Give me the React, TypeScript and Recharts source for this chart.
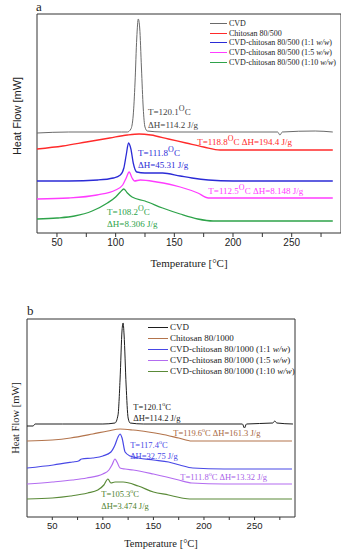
import React from "react"
import { LineChart, Line, XAxis, YAxis, ReferenceArea, ReferenceDot } from "recharts"

const serif = '"Liberation Serif", "DejaVu Serif", serif'
const sans = '"Liberation Sans", Arial, sans-serif'

// panel a (chitosan 80/500) - heat flow values are offset curves, arbitrary units
const cvdAT = [33, 60, 90, 105, 110, 113, 115, 116.5, 118, 119.3, 120.5, 122, 123.5, 125, 127, 140, 200, 238, 240, 242, 270, 285]
const cvdAV = [100, 101, 101, 101, 101, 104, 118, 150, 195, 214, 205, 165, 125, 106, 102, 101, 101, 101, 98, 101, 102, 101]
const chiAT = [33, 55, 75, 95, 110, 120, 130, 145, 160, 175, 189, 230, 285]
const chiAV = [84, 87, 91, 95, 98, 99, 98, 94, 90, 86, 83, 83, 83]
const m11AT = [33, 60, 85, 98, 104, 107, 109, 111, 113, 115, 118, 125, 140, 155, 165, 179, 200, 285]
const m11AV = [52, 52, 53, 55, 58, 65, 78, 90, 84, 70, 61, 60, 60, 57, 55, 53, 52, 52]
const m15AT = [33, 60, 84, 100, 106, 109, 111.5, 114, 116, 121, 135, 155, 170, 179, 200, 285]
const m15AV = [34, 35, 38, 43, 48, 55, 61, 55, 52, 53, 51, 46, 40, 35, 35, 35]
const m110AT = [33, 50, 65, 80, 93, 100, 104, 107, 110, 114, 125, 140, 155, 170, 183, 220, 285]
const m110AV = [14, 15, 17, 22, 30, 36, 41, 44, 40, 36, 32, 25, 19, 14, 12, 12, 12]

// panel b (chitosan 80/1000)
const cvdBT = [25, 31, 33, 60, 100, 112, 115, 117, 119, 120, 121, 123, 125, 127, 140, 238, 240, 242, 268, 270, 272, 288]
const cvdBV = [91, 91, 93, 93, 93, 94, 102, 137, 187, 194, 182, 132, 99, 94, 93, 93, 89, 93, 94, 96, 94, 93]
const chiBT = [25, 50, 68, 90, 105, 117, 130, 145, 157, 175, 188, 230, 287]
const chiBV = [76, 77, 79, 83, 86, 88, 87, 85, 83, 79, 76, 76, 76]
const m11BT = [25, 51, 70, 76, 79, 90, 100, 108, 112, 115, 117, 119, 122, 127, 135, 150, 165, 176, 189, 220, 287]
const m11BV = [49, 52, 55, 56, 58, 59, 61, 65, 72, 80, 83, 79, 65, 61, 59, 57, 55, 52, 49, 48, 48]
const m15BT = [25, 50, 70, 84, 100, 106, 109, 112, 114, 117, 122, 130, 150, 163, 175, 188, 220, 287]
const m15BV = [33, 35, 37, 39, 43, 47, 52, 58, 55, 49, 48, 47, 43, 40, 37, 34, 33, 33]
const m110BT = [25, 50, 68, 85, 95, 101, 105, 108, 112, 120, 135, 150, 165, 178, 186, 230, 287]
const m110BV = [18, 19, 21, 24, 27, 32, 38, 34, 35, 35, 31, 25, 22, 19, 18, 18, 18]

const tempTicks = [50, 75, 100, 125, 150, 175, 200, 225, 250, 275]

const zip = (t: number[], v: number[]) => t.map((x, i) => ({ t: x, v: v[i] }))

const seriesA = [
  { name: "CVD", color: "#6a6a6a", data: zip(cvdAT, cvdAV), w: 1 },
  { name: "Chitosan 80/500", color: "#ff2a2a", data: zip(chiAT, chiAV), w: 1.3 },
  { name: "CVD-chitosan 80/500 (1:1 w/w)", color: "#2b2bd6", data: zip(m11AT, m11AV), w: 1.3 },
  { name: "CVD-chitosan 80/500 (1:5 w/w)", color: "#ff3cff", data: zip(m15AT, m15AV), w: 1.3 },
  { name: "CVD-chitosan 80/500 (1:10 w/w)", color: "#2ea34a", data: zip(m110AT, m110AV), w: 1.3 },
]

const seriesB = [
  { name: "CVD", color: "#1e1e1e", data: zip(cvdBT, cvdBV), w: 1 },
  { name: "Chitosan 80/1000", color: "#b3744c", data: zip(chiBT, chiBV), w: 1.2 },
  { name: "CVD-chitosan 80/1000 (1:1 w/w)", color: "#4848e6", data: zip(m11BT, m11BV), w: 1.2 },
  { name: "CVD-chitosan 80/1000 (1:5 w/w)", color: "#b36cf0", data: zip(m15BT, m15BV), w: 1.2 },
  { name: "CVD-chitosan 80/1000 (1:10 w/w)", color: "#5a8a38", data: zip(m110BT, m110BV), w: 1.2 },
]

type Note = { t: number; v: number; pre: string; post?: string; color: string }

const notesA: Note[] = [
  { t: 127.6, v: 118, pre: "T=120.1", post: "C", color: "#444" },
  { t: 127.6, v: 105, pre: "ΔH=114.2 J/g", color: "#444" },
  { t: 169.5, v: 88, pre: "T=118.8", post: "C ΔH=194.4 J/g", color: "#ff2a2a" },
  { t: 119, v: 77, pre: "T=111.8", post: "C", color: "#2b2bd6" },
  { t: 119, v: 65, pre: "ΔH=45.31 J/g", color: "#2b2bd6" },
  { t: 179, v: 39, pre: "T=112.5", post: "C ΔH=8.148 J/g", color: "#ff3cff" },
  { t: 92.7, v: 18, pre: "T=108.2", post: "C", color: "#2ea34a" },
  { t: 92.7, v: 6, pre: "ΔH=8.306 J/g", color: "#2ea34a" },
]

const notesB: Note[] = [
  { t: 130, v: 107, pre: "T=120.1", post: "C", color: "#222" },
  { t: 130, v: 96, pre: "ΔH=114.2 J/g", color: "#222" },
  { t: 169.6, v: 81, pre: "T=119.6", post: "C ΔH=161.3 J/g", color: "#a8663e" },
  { t: 127, v: 69, pre: "T=117.4", post: "C", color: "#4848e6" },
  { t: 127, v: 58, pre: "ΔH=32.75 J/g", color: "#4848e6" },
  { t: 176.5, v: 37, pre: "T=111.8", post: "C ΔH=13.32 J/g", color: "#a95fe8" },
  { t: 98.4, v: 20, pre: "T=105.3", post: "C", color: "#4f8230" },
  { t: 98.4, v: 8, pre: "ΔH=3.474 J/g", color: "#4f8230" },
]

function NoteText({ cx, cy, note, size, sup, supChar }: any) {
  return (
    <text x={cx} y={cy} fill={note.color} fontSize={size} fontFamily={serif}>
      {note.pre}
      {note.post !== undefined && (
        <>
          <tspan dy={-size * 0.45} fontSize={sup}>{supChar}</tspan>
          <tspan dy={size * 0.45}>{note.post}</tspan>
        </>
      )}
    </text>
  )
}

function LegendName({ name }: { name: string }) {
  const i = name.indexOf("w/w")
  if (i < 0) return <>{name}</>
  return (
    <>
      {name.slice(0, i)}
      <i>w/w</i>
      {name.slice(i + 3)}
    </>
  )
}

function Panel(p: any) {
  return (
    <div style={{ position: "absolute", left: 0, top: p.top, width: 341, height: p.height }}>
      <LineChart width={341} height={p.height} margin={p.margin}>
        <XAxis
          type="number"
          dataKey="t"
          domain={p.xd}
          allowDataOverflow
          ticks={tempTicks}
          interval={0}
          tickFormatter={(v: number) => (v % 50 === 0 ? String(v) : "")}
          height={p.xh}
          tickSize={p.tickSize}
          axisLine={false}
          tickLine={{ stroke: "#333" }}
          tick={{ fontSize: p.tickFont, fontFamily: sans, fill: "#222" }}
          label={{
            value: "Temperature [°C]",
            position: "insideBottom",
            offset: p.titleOffset,
            style: { fontSize: p.titleFont, fontFamily: serif, fill: "#222" },
          }}
        />
        <YAxis type="number" domain={p.yd} allowDataOverflow hide />
        <ReferenceArea x1={p.xd[0]} x2={p.xd[1]} y1={p.yd[0]} y2={p.yd[1]} fill="none" stroke="#333" strokeWidth={1} ifOverflow="visible" />
        {p.series.map((s: any) => (
          <Line
            key={s.name}
            data={s.data}
            dataKey="v"
            type="monotone"
            stroke={s.color}
            strokeWidth={s.w}
            dot={false}
            isAnimationActive={false}
          />
        ))}
        {p.notes.map((n: Note, i: number) => (
          <ReferenceDot
            key={i}
            x={n.t}
            y={n.v}
            r={0}
            ifOverflow="visible"
            shape={(sp: any) => <NoteText {...sp} note={n} size={p.noteFont} sup={p.supFont} supChar={p.supChar} />}
          />
        ))}
      </LineChart>
      <div style={{ position: "absolute", left: p.legendX, top: p.legendY, fontFamily: serif, fontSize: p.legendFont, color: "#222" }}>
        {p.series.map((s: any) => (
          <div key={s.name} style={{ display: "flex", alignItems: "center", height: p.legendRow, whiteSpace: "nowrap" }}>
            <span style={{ display: "inline-block", width: p.legendLine, height: 1, background: s.color, marginRight: 2 }} />
            <span><LegendName name={s.name} /></span>
          </div>
        ))}
      </div>
      <div
        style={{
          position: "absolute",
          left: p.yLabelX,
          top: p.yLabelY,
          transform: "translate(-50%, -50%) rotate(-90deg)",
          fontFamily: p.yLabelFamily,
          fontSize: p.yLabelFont,
          color: "#222",
          whiteSpace: "nowrap",
        }}
      >
        Heat Flow [mW]
      </div>
      <div style={{ position: "absolute", left: p.tagX, top: p.tagY, fontFamily: serif, fontSize: 13, color: "#222", lineHeight: 1 }}>
        {p.tag}
      </div>
    </div>
  )
}

export default function App() {
  return (
    <div style={{ position: "absolute", left: 0, top: 0, width: 341, height: 550, background: "#fff", overflow: "hidden" }}>
      <Panel
        top={0}
        height={275}
        margin={{ top: 14, right: 0, bottom: 0, left: 37 }}
        xd={[33, 292]}
        yd={[0, 219]}
        xh={42}
        tickSize={4}
        tickFont={10}
        titleFont={11}
        titleOffset={8}
        series={seriesA}
        notes={notesA}
        noteFont={9}
        supFont={8}
        supChar="O"
        legendX={210}
        legendY={19}
        legendRow={9.6}
        legendLine={17}
        legendFont={8}
        yLabelX={17}
        yLabelY={116}
        yLabelFamily={sans}
        yLabelFont={11}
        tag="a"
        tagX={36}
        tagY={0}
      />
      <Panel
        top={270}
        height={280}
        margin={{ top: 49, right: 46, bottom: 0, left: 27 }}
        xd={[25, 290]}
        yd={[0, 198]}
        xh={33}
        tickSize={3}
        tickFont={9.5}
        titleFont={10.5}
        titleOffset={3}
        series={seriesB}
        notes={notesB}
        noteFont={8.5}
        supFont={6}
        supChar="o"
        legendX={148}
        legendY={51.5}
        legendRow={11}
        legendLine={20}
        legendFont={9}
        yLabelX={15}
        yLabelY={148}
        yLabelFamily={serif}
        yLabelFont={10.5}
        tag="b"
        tagX={27}
        tagY={34}
      />
    </div>
  )
}
